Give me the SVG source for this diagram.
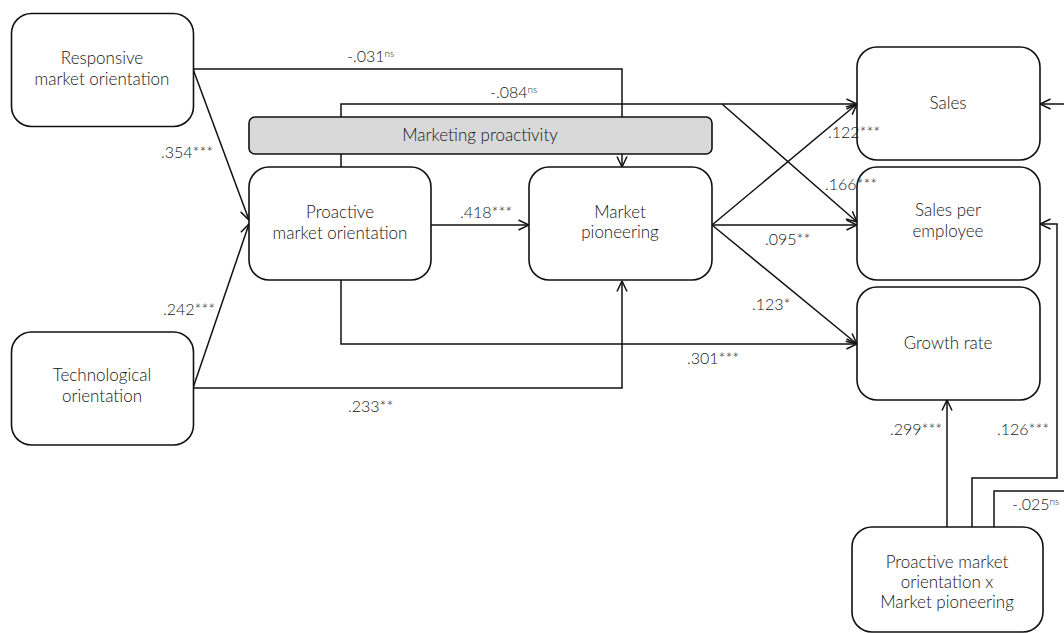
<svg xmlns="http://www.w3.org/2000/svg" width="1064" height="633" viewBox="0 0 1064 633">
<style>
.box{fill:#fff;stroke:#111;stroke-width:1.6}
.bar{fill:#d9d9d9;stroke:#111;stroke-width:1.6}
.t{font-family:Lato,"Open Sans","Liberation Sans",sans-serif;font-size:17px;font-weight:300;fill:#161616;text-anchor:middle}
.l{font-family:Lato,"Open Sans","Liberation Sans",sans-serif;font-size:16px;font-weight:300;fill:#161616}
.s{font-size:10px}
.c{fill:none;stroke:#111;stroke-width:1.5}
</style>
<defs>
<marker id="a" viewBox="0 0 12 12" refX="11.5" refY="6" markerWidth="12" markerHeight="12" markerUnits="userSpaceOnUse" orient="auto">
<path d="M1,1 L11.5,6 L1,11" fill="none" stroke="#111" stroke-width="1.5"/>
</marker>
</defs>
<rect width="1064" height="633" fill="#fff"/>
<g id="connectors">
<path class="c" d="M193,69 H622 V167" marker-end="url(#a)"/>
<path class="c" d="M193,69 L249,220" marker-end="url(#a)"/>
<path class="c" d="M193,388 L249,224" marker-end="url(#a)"/>
<path class="c" d="M193,388 H622 V281" marker-end="url(#a)"/>
<path class="c" d="M431,225 H529" marker-end="url(#a)"/>
<path class="c" d="M341,280 V344 H857" marker-end="url(#a)"/>
<path class="c" d="M341,167 V104 H857" marker-end="url(#a)"/>
<path class="c" d="M722,104 L857,222" marker-end="url(#a)"/>
<path class="c" d="M712,225 L857,104" marker-end="url(#a)"/>
<path class="c" d="M712,225 H857" marker-end="url(#a)"/>
<path class="c" d="M712,225 L857,344" marker-end="url(#a)"/>
<path class="c" d="M947,527 V400" marker-end="url(#a)"/>
<path class="c" d="M972,527 V478 H1057 V224 H1040" marker-end="url(#a)"/>
<path class="c" d="M994,527 V491 H1080 V104 H1040" marker-end="url(#a)"/>
</g>
<g id="marketing-proactivity">
<rect class="bar" x="249" y="117" width="463" height="37" rx="6"/>
<text class="t" x="480" y="141">Marketing proactivity</text>
</g>
<g id="responsive">
<rect class="box" x="11.5" y="13.5" width="182" height="113" rx="20"/>
<text class="t" x="102" y="64">Responsive</text>
<text class="t" x="102" y="85">market orientation</text>
</g>
<g id="proactive">
<rect class="box" x="249" y="167" width="182" height="113" rx="20"/>
<text class="t" x="340" y="218">Proactive</text>
<text class="t" x="340" y="239">market orientation</text>
</g>
<g id="pioneering">
<rect class="box" x="529" y="167" width="183" height="113" rx="20"/>
<text class="t" x="620" y="218">Market</text>
<text class="t" x="620" y="238">pioneering</text>
</g>
<g id="technological">
<rect class="box" x="11.5" y="332" width="182" height="113" rx="20"/>
<text class="t" x="102" y="381">Technological</text>
<text class="t" x="102" y="402">orientation</text>
</g>
<g id="sales">
<rect class="box" x="857" y="47" width="183" height="113" rx="20"/>
<text class="t" x="948" y="109">Sales</text>
</g>
<g id="sales-per-employee">
<rect class="box" x="857" y="167" width="183" height="113" rx="20"/>
<text class="t" x="948" y="216">Sales per</text>
<text class="t" x="948" y="237">employee</text>
</g>
<g id="growth">
<rect class="box" x="857" y="287" width="183" height="113" rx="20"/>
<text class="t" x="948" y="349">Growth rate</text>
</g>
<g id="interaction">
<rect class="box" x="852" y="527" width="191" height="105" rx="20"/>
<text class="t" x="947" y="568">Proactive market</text>
<text class="t" x="947" y="588">orientation x</text>
<text class="t" x="947" y="608">Market pioneering</text>
</g>
<g id="labels">
<text class="l" x="347" y="62">-.031<tspan class="s" dy="-5">ns</tspan></text>
<text class="l" x="161" y="158">.354***</text>
<text class="l" x="490" y="98">-.084<tspan class="s" dy="-5">ns</tspan></text>
<text class="l" x="828" y="138">.122***</text>
<text class="l" x="825" y="190">.166***</text>
<text class="l" x="765" y="245">.095**</text>
<text class="l" x="752" y="310">.123*</text>
<text class="l" x="687" y="364">.301***</text>
<text class="l" x="460" y="218">.418***</text>
<text class="l" x="163" y="315">.242***</text>
<text class="l" x="348" y="412">.233**</text>
<text class="l" x="890" y="435">.299***</text>
<text class="l" x="997" y="435">.126***</text>
<text class="l" x="1012" y="510">-.025<tspan class="s" dy="-5">ns</tspan></text>
</g>
</svg>
